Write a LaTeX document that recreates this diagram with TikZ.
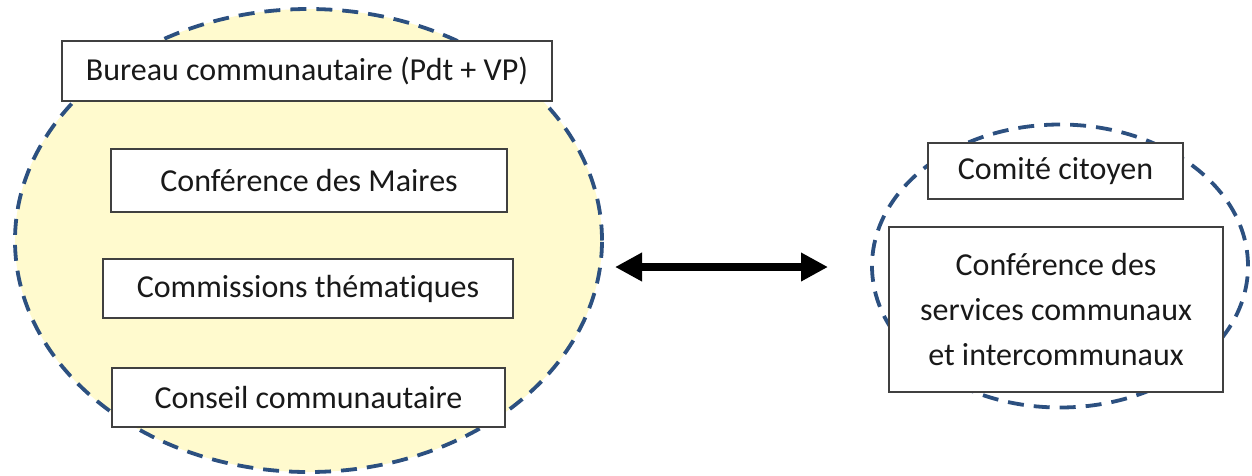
\documentclass[tikz,border=0pt]{standalone}
\usepackage{fontspec}
\setmainfont{Carlito}[Ligatures={NoCommon}]
\usetikzlibrary{shapes.geometric,arrows.meta}
\definecolor{dashblue}{RGB}{44,80,128}
\definecolor{paleyellow}{RGB}{255,250,206}
\definecolor{boxline}{RGB}{64,64,64}
\definecolor{txt}{RGB}{25,25,25}
\begin{document}
\begin{tikzpicture}[x=1pt,y=-1pt,
  group/.style={ellipse, draw=dashblue, line width=3.8pt, dash pattern=on 16pt off 10pt, inner sep=0pt},
  box/.style={draw=boxline, line width=1.8pt, fill=white, inner sep=0pt, text=txt,
    font=\fontsize{32}{45}\selectfont, align=center},
  link/.style={line width=7.5pt, {Triangle[length=27pt,width=27pt]}-{Triangle[length=27pt,width=27pt]}}]
\useasboundingbox (0,0) rectangle (1252,475);
% groups
\node[group, fill=paleyellow, minimum width=587pt, minimum height=463pt] (L) at (308.5,240.5) {};
\node[group, minimum width=376pt, minimum height=283pt] (R) at (1060,266) {};
% left boxes
\node[box, minimum width=490pt, minimum height=60pt] (bureau) at (307,71) {Bureau communautaire (Pdt + VP)};
\node[box, minimum width=396pt, minimum height=63pt] (maires) at (309,180.5) {Conférence des Maires};
\node[box, minimum width=410pt, minimum height=59pt] (comm) at (308,288.5) {Commissions thématiques};
\node[box, minimum width=393pt, minimum height=59pt] (conseil) at (308.5,397.5) {Conseil communautaire};
% right boxes
\node[box, minimum width=255pt, minimum height=56pt] (comite) at (1055.5,171) {Comité citoyen};
\node[box, minimum width=334pt, minimum height=165pt] (services) at (1056,309.5) {Conférence des\\services communaux\\et intercommunaux};
% arrow
\coordinate (a1) at (615,267);
\coordinate (a2) at (828,267);
\draw[link] (a1) -- (a2);
\end{tikzpicture}
\end{document}
